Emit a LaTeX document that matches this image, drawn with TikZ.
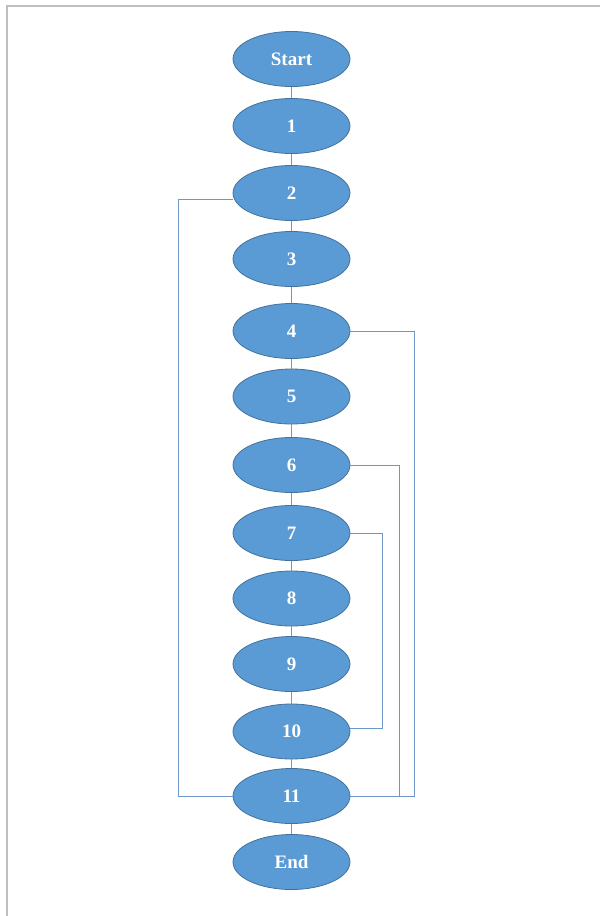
\documentclass[tikz,border=0pt]{standalone}
\usepackage{fontspec}
\setmainfont{Liberation Serif}
\usetikzlibrary{shapes.geometric,calc}
\definecolor{nodefill}{RGB}{91,155,213}
\definecolor{nodeedge}{RGB}{65,113,156}
\definecolor{linkcol}{RGB}{110,150,200}
\definecolor{framecol}{RGB}{190,190,190}
\tikzset{
  stepnode/.style={ellipse, draw=nodeedge, line width=0.8pt, fill=nodefill,
    minimum width=117pt, minimum height=55pt, inner sep=0pt,
    text=white, font=\fontsize{19}{19}\selectfont\bfseries},
  link/.style={draw=linkcol, line width=1pt}
}
\begin{document}
\begin{tikzpicture}[x=1pt,y=-1pt]
\useasboundingbox (0,0) rectangle (600,916);
\draw[framecol, line width=1.6pt] (7,916) -- (7,6) -- (600,6);
\node[stepnode] (s)  at (291.5,59)    {Start};
\node[stepnode] (n1) at (291.5,126)   {1};
\node[stepnode] (n2) at (291.5,193)   {2};
\node[stepnode] (n3) at (291.5,259)   {3};
\node[stepnode] (n4) at (291.5,331)   {4};
\node[stepnode] (n5) at (291.5,396.5) {5};
\node[stepnode] (n6) at (291.5,465)   {6};
\node[stepnode] (n7) at (291.5,533)   {7};
\node[stepnode] (n8) at (291.5,598.5) {8};
\node[stepnode] (n9) at (291.5,664)   {9};
\node[stepnode] (n10) at (291.5,731.5) {10};
\node[stepnode] (n11) at (291.5,796)  {11};
\node[stepnode] (e)  at (291.5,862)   {End};
% straight chain
\foreach \a/\b in {s/n1,n1/n2,n2/n3,n3/n4,n4/n5,n5/n6,n6/n7,n7/n8,n8/n9,n9/n10,n10/n11,n11/e}
  \draw[link] (\a.south) -- (\b.north);
% loops
\draw[link] (n11.west) -- ++(-54,0) |- ($(n2.west)+(0,6)$);
\draw[link] (n4.east) -| ($(n11.east)+(64,0)$) -- (n11.east);
\draw[link] (n6.east) -| ($(n11.east)+(49.5,0)$);
\draw[link] (n7.east) -| ($(n10.east)+(32,-3)$) -- ($(n10.east)+(0,-3)$);
\end{tikzpicture}
\end{document}
